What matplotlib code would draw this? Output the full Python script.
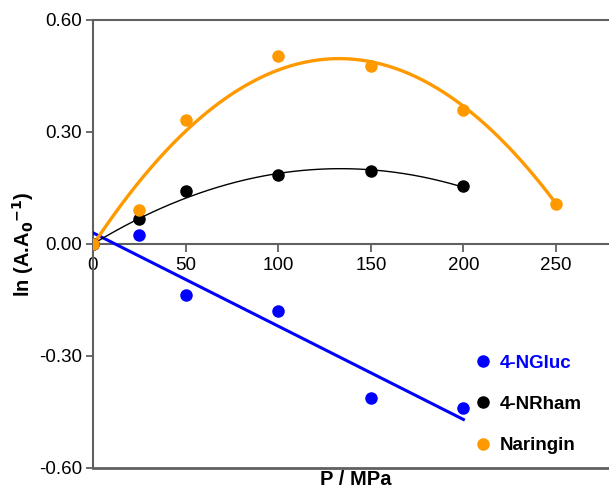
import matplotlib
matplotlib.use("Agg")
import matplotlib.pyplot as plt
import numpy as np

plt.rcParams['font.family'] = ['Liberation Sans', 'DejaVu Sans']
plt.rcParams['axes.unicode_minus'] = False

# pressure (MPa) and ln(A/A0) for each compound
p = [0, 25, 50, 100, 150, 200]
p_nar = [0, 25, 50, 100, 150, 200, 250]
gluc = [0.0, 0.024, -0.137, -0.180, -0.413, -0.440]
rham = [0.0, 0.067, 0.142, 0.185, 0.196, 0.155]
naringin = [0.0, 0.091, 0.332, 0.504, 0.477, 0.359, 0.107]

# fitted curves (polynomial coefficients, highest power first)
gluc_fit = [-0.0025, 0.03]
rham_fit = [-1.13e-5, 0.00302, 0.0]
nar_fit = [-2.83e-5, 0.00752, -0.003]

c_gluc = '#0000ff'
c_rham = '#000000'
c_nar = '#ff9900'
spine_c = '#606060'

fig = plt.figure(figsize=(6.09, 4.92), dpi=100)
ax = fig.add_axes([93 / 609, 1 - 468 / 492, 1 - 93 / 609, (468 - 20) / 492])

x1 = np.linspace(0, 200, 200)
x2 = np.linspace(0, 250, 200)
ax.plot(x1, np.polyval(gluc_fit, x1), color=c_gluc, lw=2.2, zorder=3)
ax.plot(x1, np.polyval(rham_fit, x1), color=c_rham, lw=1.0, zorder=3)
ax.plot(x2, np.polyval(nar_fit, x2), color=c_nar, lw=2.4, zorder=3)

ax.plot(p, gluc, 'o', color=c_gluc, ms=8, label='4-NGluc', zorder=4)
ax.plot(p, rham, 'o', color=c_rham, ms=8, label='4-NRham', zorder=4)
ax.plot(p_nar, naringin, 'o', color=c_nar, ms=8, label='Naringin', zorder=5)

ax.set_xlim(0, 278.6)
ax.set_ylim(-0.6, 0.6)
ax.set_xticks([0, 50, 100, 150, 200, 250])
ax.set_yticks([-0.6, -0.3, 0.0, 0.3, 0.6])
ax.set_yticklabels(['-0.60', '-0.30', '0.00', '0.30', '0.60'])

ax.spines['bottom'].set_position(('data', 0))
ax.spines['right'].set_visible(False)
for s in ['left', 'top', 'bottom']:
    ax.spines[s].set_color(spine_c)
    ax.spines[s].set_linewidth(1.5)
ax.axhline(-0.6, color=spine_c, lw=2, clip_on=False)

ax.tick_params(axis='both', labelsize=13.5, color=spine_c, width=1.3)
ax.tick_params(axis='x', direction='out', length=6, pad=3)
ax.tick_params(axis='y', direction='out', length=5, pad=3)

ax.set_xlabel('P / MPa', fontsize=14.5, fontweight='bold')
ax.xaxis.set_label_coords(0.51, -0.004)
ax.set_ylabel('ln (A.A$_\\mathbf{0}$$^{\\mathbf{-1}}$)', fontsize=14.5, fontweight='bold')
ax.yaxis.set_label_coords(-0.11, 0.5)

leg = ax.legend(loc='upper left', bbox_to_anchor=(0.73, 0.27), frameon=False,
                handlelength=0.6, handletextpad=0.6, labelspacing=1.29,
                prop={'size': 13.5, 'weight': 'bold'}, borderaxespad=0)
leg.get_texts()[0].set_color(c_gluc)

fig.savefig('out.png', dpi=100)
